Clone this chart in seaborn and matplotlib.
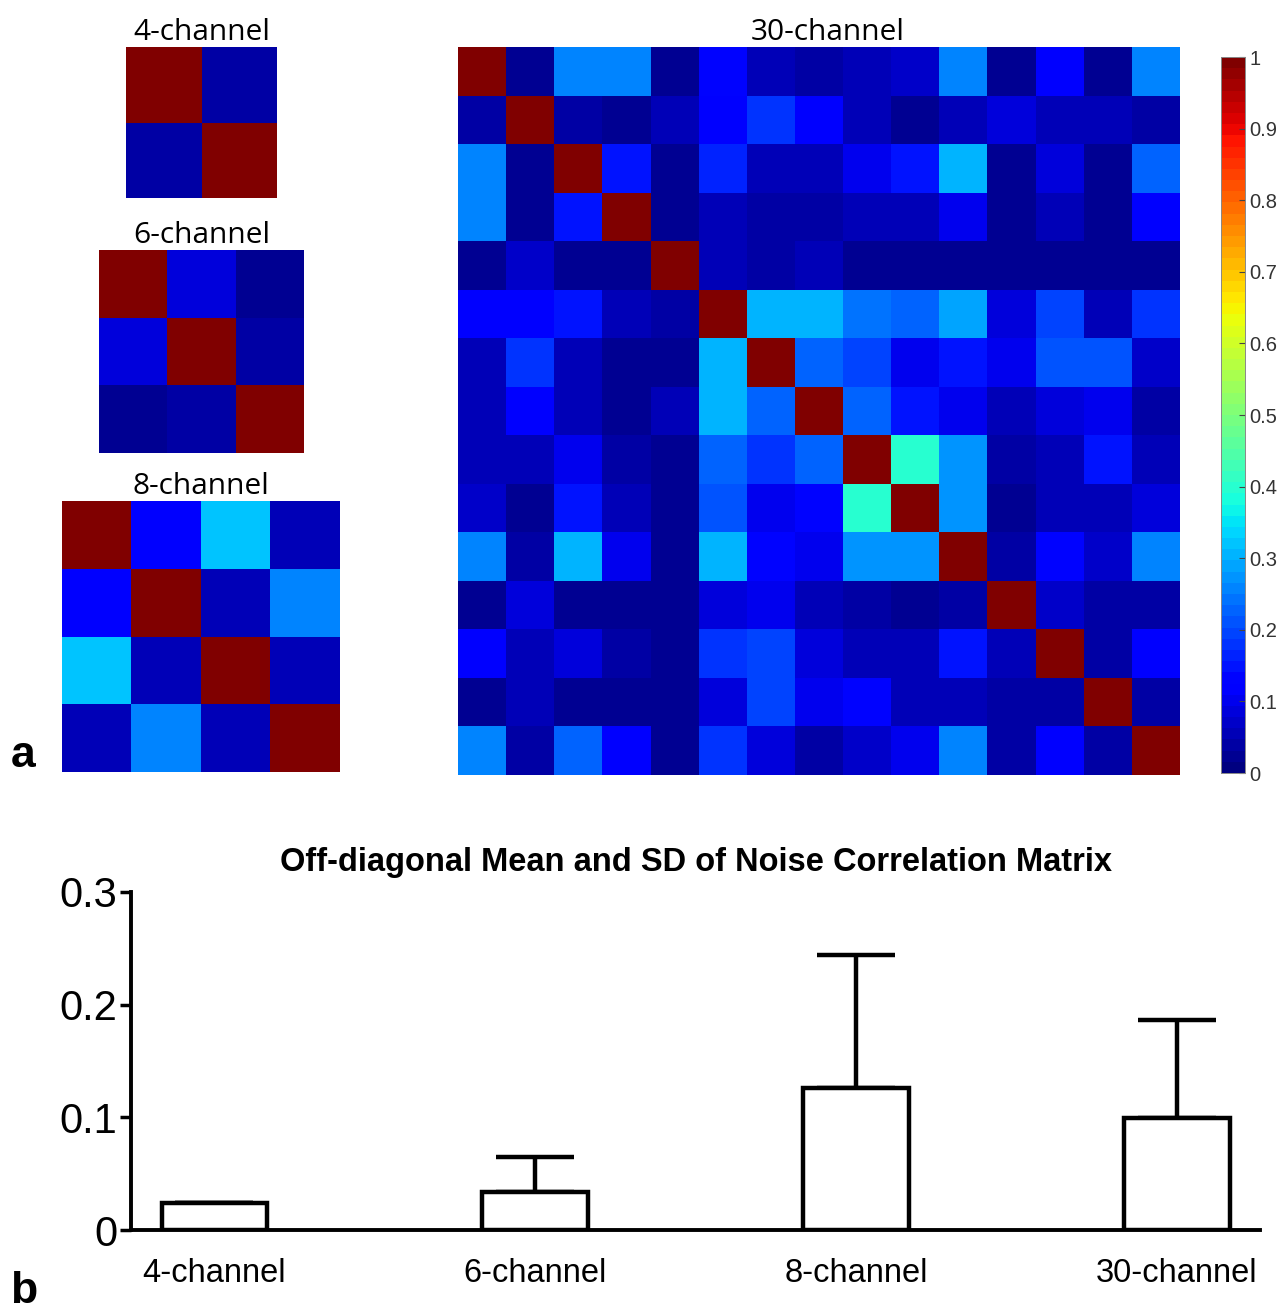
import numpy as np
import pandas as pd
import matplotlib
matplotlib.use('Agg')
import matplotlib.pyplot as plt
import seaborn as sns

# Noise correlation matrices
corr_4ch = [[1.00, 0.04],
            [0.04, 1.00]]

corr_6ch = [[1.00, 0.08, 0.02],
            [0.08, 1.00, 0.04],
            [0.02, 0.04, 1.00]]

corr_8ch = [[1.00, 0.12, 0.32, 0.05],
            [0.12, 1.00, 0.05, 0.25],
            [0.32, 0.05, 1.00, 0.05],
            [0.05, 0.25, 0.05, 1.00]]

corr_30ch = [
    [1.00, 0.03, 0.25, 0.25, 0.02, 0.13, 0.06, 0.04, 0.06, 0.07, 0.25, 0.03, 0.12, 0.03, 0.25],
    [0.04, 1.00, 0.04, 0.02, 0.06, 0.12, 0.18, 0.12, 0.05, 0.03, 0.05, 0.08, 0.06, 0.06, 0.04],
    [0.25, 0.03, 1.00, 0.15, 0.02, 0.17, 0.06, 0.06, 0.10, 0.15, 0.31, 0.03, 0.08, 0.03, 0.22],
    [0.25, 0.03, 0.15, 1.00, 0.02, 0.06, 0.04, 0.04, 0.05, 0.06, 0.10, 0.02, 0.05, 0.03, 0.11],
    [0.02, 0.07, 0.03, 0.03, 1.00, 0.05, 0.04, 0.06, 0.03, 0.02, 0.02, 0.03, 0.03, 0.03, 0.02],
    [0.11, 0.12, 0.15, 0.06, 0.04, 1.00, 0.31, 0.31, 0.24, 0.22, 0.29, 0.08, 0.19, 0.06, 0.18],
    [0.06, 0.18, 0.05, 0.03, 0.03, 0.31, 1.00, 0.23, 0.19, 0.10, 0.15, 0.10, 0.21, 0.21, 0.07],
    [0.05, 0.12, 0.05, 0.03, 0.06, 0.31, 0.22, 1.00, 0.22, 0.15, 0.10, 0.05, 0.08, 0.10, 0.04],
    [0.05, 0.05, 0.10, 0.04, 0.03, 0.23, 0.18, 0.22, 1.00, 0.40, 0.28, 0.04, 0.06, 0.15, 0.06],
    [0.07, 0.03, 0.15, 0.05, 0.03, 0.21, 0.10, 0.14, 0.40, 1.00, 0.28, 0.03, 0.05, 0.05, 0.09],
    [0.25, 0.04, 0.31, 0.10, 0.03, 0.30, 0.14, 0.10, 0.28, 0.28, 1.00, 0.04, 0.14, 0.07, 0.25],
    [0.03, 0.08, 0.03, 0.02, 0.03, 0.08, 0.10, 0.05, 0.04, 0.03, 0.04, 1.00, 0.07, 0.04, 0.04],
    [0.11, 0.06, 0.08, 0.04, 0.03, 0.18, 0.19, 0.08, 0.05, 0.06, 0.15, 0.06, 1.00, 0.04, 0.12],
    [0.03, 0.06, 0.03, 0.02, 0.03, 0.08, 0.19, 0.10, 0.14, 0.06, 0.06, 0.04, 0.04, 1.00, 0.04],
    [0.25, 0.04, 0.22, 0.12, 0.02, 0.18, 0.08, 0.04, 0.07, 0.10, 0.25, 0.04, 0.12, 0.04, 1.00],
]

# Off-diagonal mean and SD
coils = ['4-channel', '6-channel', '8-channel', '30-channel']
off_diag_mean = [0.024, 0.034, 0.126, 0.099]
off_diag_sd = [0.0, 0.031, 0.118, 0.087]

cmap = matplotlib.colormaps['jet'].resampled(64)

fig = plt.figure(figsize=(12.85, 13.14), dpi=100)

title_font = dict(family='Open Sans', fontsize=21.5)

# small matrices on the left
small = [
    (corr_4ch, '4-channel', [0.0981, 0.8493, 0.1175, 0.1149]),
    (corr_6ch, '6-channel', [0.0770, 0.6553, 0.1595, 0.1545]),
    (corr_8ch, '8-channel', [0.0482, 0.4125, 0.2163, 0.2062]),
]
for mat, name, pos in small:
    ax = fig.add_axes(pos)
    sns.heatmap(np.array(mat), ax=ax, cmap=cmap, vmin=0, vmax=1, cbar=False,
                square=False, xticklabels=False, yticklabels=False)
    ax.set_title(name, pad=2, **title_font)

# 30-channel matrix with colorbar
ax30 = fig.add_axes([0.3564, 0.4102, 0.5619, 0.5540])
cax = fig.add_axes([0.9502, 0.4117, 0.0187, 0.5449])
sns.heatmap(np.array(corr_30ch), ax=ax30, cmap=cmap, vmin=0, vmax=1,
            cbar_ax=cax, square=False, xticklabels=False, yticklabels=False)
ax30.set_title('30-channel', pad=2, x=0.512, **title_font)
cax.set_yticks(np.arange(0, 1.01, 0.1))
cax.set_yticklabels(['0', '0.1', '0.2', '0.3', '0.4', '0.5', '0.6', '0.7', '0.8', '0.9', '1'],
                    family='Liberation Sans', fontsize=14.5, color='#333333')
cax.tick_params(direction='in', length=4, width=0.8, color='#444444', pad=3)
for s in cax.spines.values():
    s.set_visible(True)
    s.set_linewidth(0.6)
    s.set_color('#888888')

fig.text(0.008, 0.416, 'a', family='Liberation Sans', fontsize=32, fontweight='bold')

# bar chart of off-diagonal mean and SD
axb = fig.add_axes([0.1020, 0.0639, 0.8786, 0.2573])
df = pd.DataFrame({'coil': coils, 'mean': off_diag_mean, 'sd': off_diag_sd})
sns.barplot(data=df, x='coil', y='mean', ax=axb, color='white', edgecolor='black',
            linewidth=3.2, width=0.33, errorbar=None)
axb.errorbar(np.arange(len(coils)), df['mean'], yerr=[np.zeros(len(coils)), df['sd']],
             fmt='none', ecolor='black', elinewidth=3.2, capsize=28, capthick=3.2, zorder=0)
axb.set_xlim(-0.26, 3.26)
axb.set_ylim(0, 0.3)
axb.set_yticks([0, 0.1, 0.2, 0.3])
axb.set_yticklabels(['0', '0.1', '0.2', '0.3'], family='Liberation Sans', fontsize=30)
axb.set_xticks(np.arange(len(coils)))
axb.set_xticklabels(coils, family='Liberation Sans', fontsize=23.5)
axb.tick_params(axis='x', length=0, pad=20)
axb.tick_params(axis='y', length=8, width=2.5, direction='out', pad=2)
axb.set_xlabel('')
axb.set_ylabel('')
for side in ['top', 'right']:
    axb.spines[side].set_visible(False)
axb.spines['left'].set_linewidth(2.8)
axb.spines['bottom'].set_linewidth(2.8)
axb.set_title('Off-diagonal Mean and SD of Noise Correlation Matrix',
              family='Liberation Sans', fontsize=23.5, fontweight='bold', pad=15, x=0.5)

fig.text(0.008, 0.008, 'b', family='Liberation Sans', fontsize=32, fontweight='bold')

fig.savefig('out.png', dpi=100, facecolor='white')
